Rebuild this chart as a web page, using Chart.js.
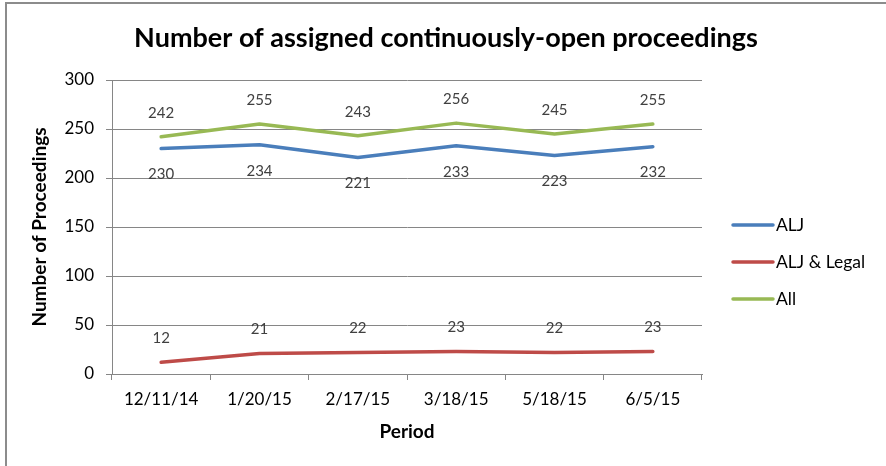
<!DOCTYPE html>
<html>
<head>
<meta charset="utf-8">
<script src="https://cdn.jsdelivr.net/npm/chart.js@4"></script>
<style>
  html, body { margin: 0; padding: 0; background: #fff; }
  #wrap { position: relative; width: 886px; height: 466px; overflow: hidden; }
  #frame { position: absolute; left: 5px; top: 2px; width: 900px; height: 500px;
           border-left: 2px solid #8c8c8c; border-top: 2px solid #8c8c8c; }
  canvas { position: absolute; left: 0; top: 0; }
</style>
</head>
<body>
<div id="wrap">
  <div id="frame"></div>
  <canvas id="c" width="886" height="466"></canvas>
</div>
<script>
const categories = ['12/11/14', '1/20/15', '2/17/15', '3/18/15', '5/18/15', '6/5/15'];
const seriesNames = ['ALJ', 'ALJ & Legal', 'All'];
const aljValues = [230, 234, 221, 233, 223, 232];
const aljLegalValues = [12, 21, 22, 23, 22, 23];
const allValues = [242, 255, 243, 256, 245, 255];
const yTicks = [0, 50, 100, 150, 200, 250, 300];

const FONT = 'Lato, "Open Sans", "DejaVu Sans", sans-serif';
const colors = ['#4A7EBB', '#BE4B48', '#98B954'];
const labelPos = ['below', 'above', 'above'];

const dataLabels = {
  id: 'dataLabels',
  afterDatasetsDraw(chart) {
    const ctx = chart.ctx;
    ctx.save();
    ctx.font = '15px ' + FONT;
    ctx.fillStyle = '#404040';
    ctx.textAlign = 'center';
    ctx.textBaseline = 'middle';
    chart.data.datasets.forEach((ds, i) => {
      const meta = chart.getDatasetMeta(i);
      meta.data.forEach((pt, j) => {
        const dy = labelPos[i] === 'below' ? 26 : -24;
        ctx.fillText(String(ds.data[j]), pt.x, pt.y + dy);
      });
    });
    ctx.restore();
  }
};

const sideLegend = {
  id: 'sideLegend',
  afterDraw(chart) {
    const ctx = chart.ctx;
    ctx.save();
    ctx.font = '17.5px ' + FONT;
    ctx.fillStyle = '#000';
    ctx.textAlign = 'left';
    ctx.textBaseline = 'middle';
    chart.data.datasets.forEach((ds, i) => {
      const y = 225 + i * 37;
      ctx.strokeStyle = ds.borderColor;
      ctx.lineWidth = 3.5;
      ctx.lineCap = 'round';
      ctx.beginPath();
      ctx.moveTo(733, y);
      ctx.lineTo(773, y);
      ctx.stroke();
      ctx.fillText(ds.label, 776, y);
    });
    ctx.restore();
  }
};

new Chart(document.getElementById('c'), {
  type: 'line',
  data: {
    labels: categories,
    datasets: [
      { label: seriesNames[0], data: aljValues, borderColor: colors[0] },
      { label: seriesNames[1], data: aljLegalValues, borderColor: colors[1] },
      { label: seriesNames[2], data: allValues, borderColor: colors[2] }
    ].map(d => Object.assign(d, {
      borderWidth: 3.5, pointRadius: 0, pointHoverRadius: 0, tension: 0,
      fill: false, borderCapStyle: 'round', borderJoinStyle: 'round', backgroundColor: d.borderColor
    }))
  },
  options: {
    responsive: false,
    animation: false,
    devicePixelRatio: 1,
    layout: { padding: { left: 6, right: 0, top: 0, bottom: 19 } },
    plugins: {
      legend: { display: false },
      tooltip: { enabled: false },
      title: {
        display: true,
        text: 'Number of assigned continuously-open proceedings',
        color: '#000',
        font: { family: FONT, size: 27, weight: 'bold' },
        padding: { top: 22, bottom: 25.6 }
      }
    },
    scales: {
      x: {
        type: 'category',
        offset: true,
        grid: { display: true, offset: true, drawOnChartArea: false, drawTicks: true, tickLength: 6, color: '#868686', lineWidth: 1 },
        border: { display: true, color: '#868686', width: 1 },
        ticks: { color: '#000', font: { family: FONT, size: 17 }, padding: 9, maxRotation: 0 },
        title: { display: true, text: 'Period', color: '#000', font: { family: FONT, size: 19, weight: 'bold' }, padding: { top: 4, bottom: 4 } },
        afterFit(scale) { scale.height = 73; }
      },
      y: {
        min: 0, max: 300,
        afterBuildTicks(scale) { scale.ticks = yTicks.map(v => ({ value: v })); },
        grid: { color: '#868686', lineWidth: 1, drawTicks: true, tickLength: 6 },
        border: { display: true, color: '#868686', width: 1 },
        ticks: { color: '#000', font: { family: FONT, size: 17 }, padding: 12 },
        title: { display: true, text: 'Number of Proceedings', color: '#000', font: { family: FONT, size: 19, weight: 'bold' }, padding: { top: 22, bottom: 4 } },
        afterFit(scale) { scale.width = 106; }
      },
      spacer: {
        type: 'linear',
        position: 'right',
        display: true,
        grid: { display: false, drawTicks: false },
        border: { display: false },
        ticks: { display: false },
        afterFit(scale) { scale.width = 184; }
      }
    }
  },
  plugins: [dataLabels, sideLegend]
});
</script>
</body>
</html>
